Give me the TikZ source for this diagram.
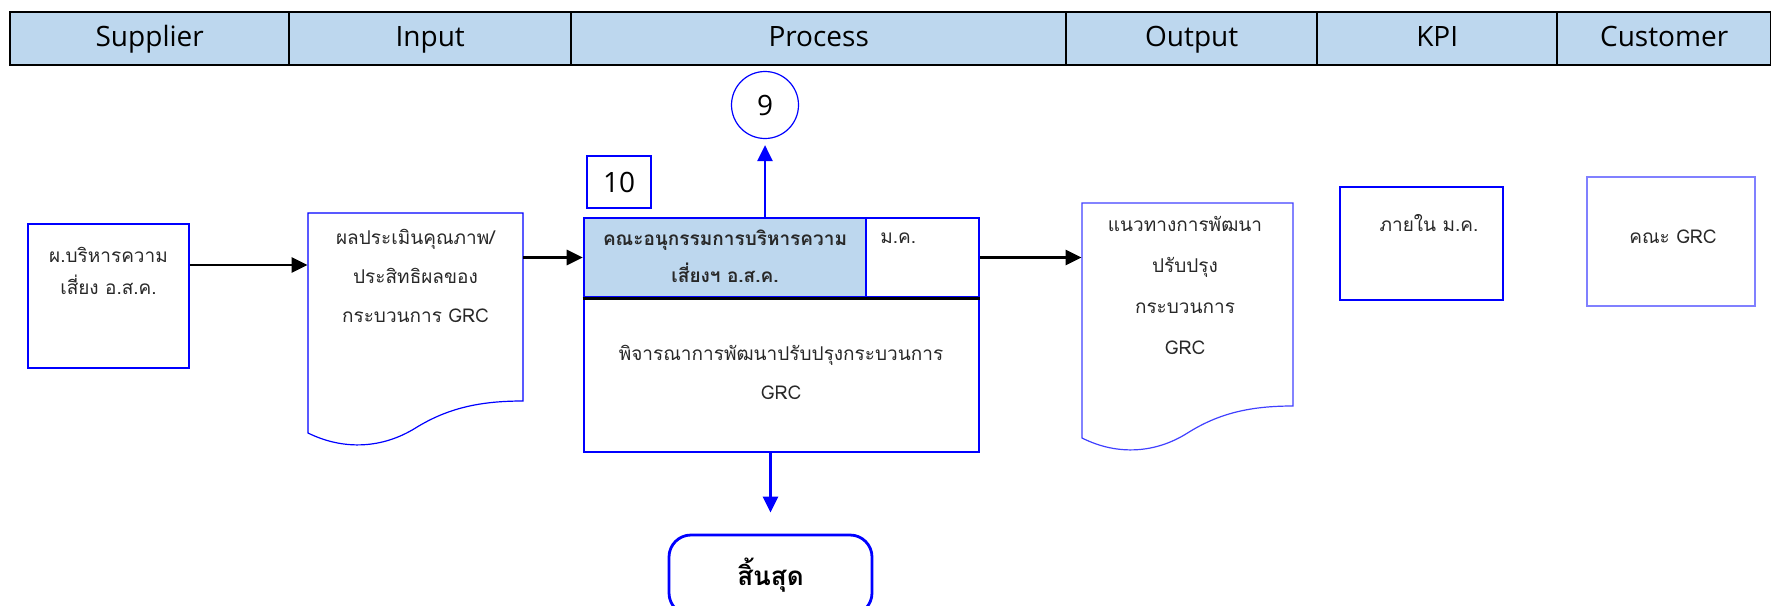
\documentclass[tikz,border=0pt]{standalone}
\usepackage{fontspec}
\setmainfont{Open Sans}
\newfontfamily\thaifont[Script=Thai]{Loma}
\usetikzlibrary{arrows.meta}
\definecolor{headblue}{RGB}{189,215,238}
\definecolor{txtgray}{RGB}{40,40,40}

\begin{document}
\begin{tikzpicture}[x=0.5pt,y=-0.5pt,
  headcell/.style={draw=black, line width=1.2pt, fill=headblue, anchor=north west,
    minimum height=26.5pt, inner sep=0pt, text height=10.5pt, text depth=3pt,
    font=\fontsize{14}{16}\selectfont},
  bluebox/.style={draw=blue, line width=0.6pt, inner sep=0pt},
  procline/.style={draw=blue, line width=1.3pt, inner sep=0pt},
  docline/.style={draw=blue, line width=0.6pt},
  thai/.style={align=center, text=txtgray, inner sep=0pt,
    font=\thaifont\fontsize{9.5}{19.5}\selectfont},
  arr/.style={line width=1.4pt, -{Triangle[length=8pt,width=7.5pt]}},
  bluearr/.style={blue, line width=1.3pt, -{Triangle[length=8pt,width=7.5pt]}}]
  \useasboundingbox (0,0) rectangle (1771,605);

  % header row
  \node[headcell, minimum width=139.5pt] (hSup) at (9,11) {Supplier};
  \node[headcell, minimum width=141pt] (hIn) at (288,11) {Input};
  \node[headcell, minimum width=247.5pt] (hProc) at (570,11) {Process};
  \node[headcell, minimum width=125.5pt] (hOut) at (1065,11) {Output};
  \node[headcell, minimum width=120pt] (hKpi) at (1316,11) {KPI};
  \node[headcell, minimum width=107pt] (hCust) at (1556,11) {Customer};

  % supplier
  \node[bluebox, minimum width=80.5pt, minimum height=72pt] (sup) at (108.5,296) {};
  \node[thai, font=\thaifont\fontsize{9.5}{16}\selectfont] (supText) at (108.5,271)
    {ผ.บริหารความ\\เสี่ยง อ.ส.ค.};
  \coordinate (supRow) at (0,265);

  % input document
  \node[minimum width=107.5pt, minimum height=94pt, inner sep=0pt] (inDoc) at (415.5,307) {};
  \draw[docline] (308,213) -- (523,213) -- (523,401)
    .. controls (480,401) and (447.8,408) .. (415.5,428)
    .. controls (383.3,448) and (344.6,451) .. (308,433) -- cycle;
  \node[thai] (inText) at (415.5,276)
    {ผลประเมินคุณภาพ/\\ประสิทธิผลของ\\กระบวนการ GRC};

  % process
  \node[procline, minimum width=197.5pt, minimum height=117pt] (proc) at (781.5,335) {};
  \node[procline, fill=headblue, minimum width=141pt, minimum height=39.5pt] (procHead) at (725,257.5) {};
  \node[procline, minimum width=56.5pt, minimum height=39.5pt] (procMonth) at (922.5,257.5) {};
  \draw[black, line width=1.2pt] (proc.west |- procHead.south) -- (proc.east |- procHead.south);
  \node[thai, font=\thaifont\bfseries\fontsize{9.5}{18.5}\selectfont] (headText) at (725,256.5)
    {คณะอนุกรรมการบริหารความ\\เสี่ยงฯ อ.ส.ค.};
  \node[thai, anchor=west] (monthText) at (880,238) {ม.ค.};
  \node[thai] (procText) at (781,372) {พิจารณาการพัฒนาปรับปรุงกระบวนการ\\GRC};

  \node[draw=blue, line width=1pt, minimum width=32pt, minimum height=26pt,
    font=\fontsize{14}{16}\selectfont] (ten) at (619,182) {10};
  \node[circle, draw=blue, line width=0.6pt, minimum size=33.5pt, inner sep=0pt,
    font=\fontsize{14}{16}\selectfont] (nine) at (765,105) {9};
  \draw[bluearr, shorten >=3pt] (nine.south |- proc.north) -- (nine.south);

  % end
  \node[draw=blue, line width=1.4pt, rounded corners=11pt, minimum width=101.5pt,
    minimum height=40pt, inner sep=0pt, font=\thaifont\bfseries\fontsize{13}{16}\selectfont]
    (finish) at (770.5,575) {สิ้นสุด};
  \draw[bluearr, shorten >=10.5pt] (finish.north |- proc.south) -- (finish.north);

  % output document
  \node[minimum width=105.5pt, minimum height=101.5pt, inner sep=0pt] (outDoc) at (1187.5,304.5) {};
  \draw[docline, draw=blue!75] (1082,203) -- (1293,203) -- (1293,406)
    .. controls (1250.8,406) and (1219.2,413) .. (1187.5,433)
    .. controls (1155.9,453) and (1117.9,456) .. (1082,438) -- cycle;
  \node[thai, font=\thaifont\fontsize{9.5}{20.5}\selectfont] (outText) at (1185,285)
    {แนวทางการพัฒนา\\ปรับปรุง\\กระบวนการ\\GRC};

  % kpi, customer
  \node[bluebox, minimum width=81.5pt, minimum height=56.5pt] (kpi) at (1421.5,243.5) {};
  \node[thai] (kpiText) at (1429,223) {ภายใน ม.ค.};
  \node[bluebox, draw=blue!50, line width=1pt, minimum width=84pt, minimum height=64.5pt] (cust) at (1671,241.5) {};
  \node[thai] (custText) at (1673,237) {คณะ GRC};

  % connectors
  \draw[arr] (sup.east |- supRow) -- (inDoc.west |- supRow);
  \draw[arr] (inDoc.east |- procHead.west) -- (procHead.west);
  \draw[arr] (procMonth.east) -- (outDoc.west |- procMonth.east);
\end{tikzpicture}
\end{document}
